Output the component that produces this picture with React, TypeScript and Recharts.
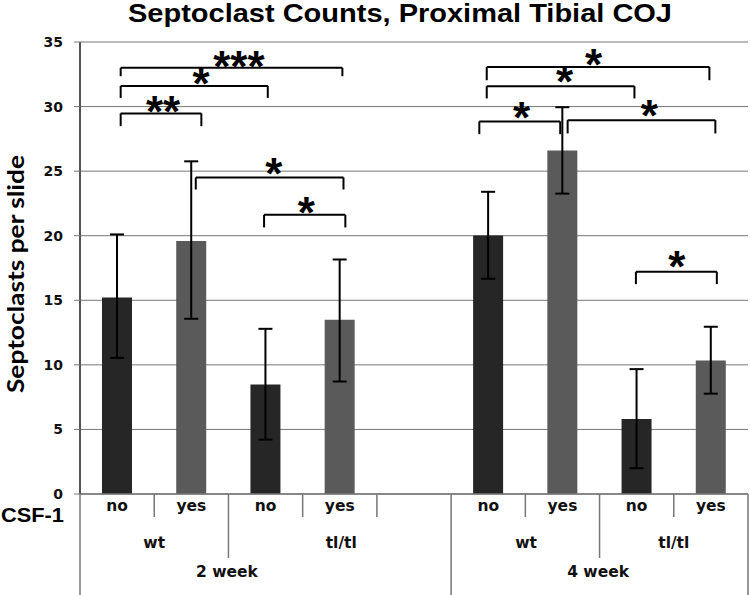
import React from 'react';
import { BarChart, Bar, XAxis, YAxis, CartesianGrid, ErrorBar, Cell, ReferenceLine, ReferenceDot } from 'recharts';

// ---- data ----
const slotIds = ['w2-wt-no', 'w2-wt-yes', 'w2-tl-no', 'w2-tl-yes', 'gap', 'w4-wt-no', 'w4-wt-yes', 'w4-tl-no', 'w4-tl-yes'];
const slotCenters = [0.5, 1.5, 2.5, 3.5, 4.5, 5.5, 6.5, 7.5, 8.5];
const csfLabels = ['no', 'yes', 'no', 'yes', '', 'no', 'yes', 'no', 'yes'];
const meanCounts: (number | null)[] = [15.22, 19.6, 8.47, 13.49, null, 20.02, 26.59, 5.81, 10.33];
const errLow: (number | null)[] = [4.68, 6.03, 4.26, 4.78, null, 3.35, 3.33, 3.81, 2.56];
const errHigh: (number | null)[] = [4.88, 6.16, 4.32, 4.67, null, 3.38, 3.36, 3.86, 2.62];

const groupLabels = ['wt', 'tl/tl', 'wt', 'tl/tl'];
const groupPos = [1.0, 3.52, 6.01, 8.0];
const weekLabels = ['2 week', '4 week'];
const weekPos = [1.98, 6.98];
// separator level at each slot boundary (0 = short, 1 = group, 2 = week)
const boundaryLevel = [2, 0, 1, 0, 0, 2, 0, 1, 0, 2];

const yTicks = [0, 5, 10, 15, 20, 25, 30, 35];

// significance brackets (x in slot units, y in counts)
const bracketX1 = [0.548, 0.548, 0.548, 1.56, 2.48, 5.48, 5.48, 5.38, 6.57, 7.49];
const bracketX2 = [3.535, 2.53, 1.635, 3.55, 3.575, 8.48, 7.47, 6.47, 8.56, 8.58];
const bracketTop = [33.0, 31.6, 29.47, 24.51, 21.62, 33.07, 31.58, 28.85, 28.95, 17.21];
const bracketEnd = [32.35, 30.67, 28.48, 23.58, 20.64, 32.04, 30.63, 27.86, 27.92, 16.25];

const starX = [2.14, 1.63, 1.12, 2.61, 3.05, 6.92, 6.53, 5.95, 7.67, 8.04];
const starY = [33.64, 32.29, 30.16, 25.29, 22.33, 33.73, 32.44, 29.64, 29.79, 18.14];
const starText = ['***', '*', '**', '*', '*', '*', '*', '*', '*', '*'];

const data = slotIds.map((id, i) => ({
  id,
  pos: slotCenters[i],
  csf: csfLabels[i],
  value: meanCounts[i],
  err: errLow[i] == null ? undefined : [errLow[i], errHigh[i]],
}));

const barColor: Record<string, string> = { no: '#262626', yes: '#5a5a5a' };
const lineColor = '#777777';
const labelFont = 'DejaVu Sans, sans-serif';

const CatTick = (props: any) => {
  const { x, y, index, width, visibleTicksCount } = props;
  const sw = typeof width === 'number' && visibleTicksCount ? width / visibleTicksCount : 74.2;
  const depth = [23, 64, 101];
  const left = x - sw / 2;
  const right = x + sw / 2;
  const last = index === csfLabels.length - 1;
  return (
    <g>
      <text x={x} y={y + 12} textAnchor="middle" dominantBaseline="central" fontFamily={labelFont} fontWeight="bold" fontSize={15.5} fill="#111">
        {csfLabels[index]}
      </text>
      <line x1={left} x2={left} y1={y} y2={y + depth[boundaryLevel[index]]} stroke={lineColor} strokeWidth={1.5} />
      {last && (
        <line x1={right} x2={right} y1={y} y2={y + depth[boundaryLevel[index + 1]]} stroke={lineColor} strokeWidth={1.5} />
      )}
    </g>
  );
};

const GroupTick = (props: any) => {
  const { x, y, index } = props;
  return (
    <text x={x} y={y + 19} textAnchor="middle" dominantBaseline="central" fontFamily={labelFont} fontWeight="bold" fontSize={15.5} fill="#111">
      {groupLabels[index]}
    </text>
  );
};

const WeekTick = (props: any) => {
  const { x, y, index } = props;
  return (
    <text x={x} y={y + 12} textAnchor="middle" dominantBaseline="central" fontFamily={labelFont} fontWeight="bold" fontSize={15.5} fill="#111">
      {weekLabels[index]}
    </text>
  );
};

const YTick = (props: any) => {
  const { x, y, payload } = props;
  return (
    <text x={x} y={y} textAnchor="end" dominantBaseline="central" fontFamily={labelFont} fontWeight="bold" fontSize={14} fill="#111">
      {payload.value}
    </text>
  );
};

const StarLabel = (text: string) => (props: any) => {
  const { viewBox } = props;
  const fs = 44;
  return (
    <text x={viewBox.x} y={viewBox.y + 0.5 * fs} textAnchor="middle" fontFamily="Liberation Sans, Arial, sans-serif" fontWeight="bold" fontSize={fs} fill="#000">
      {text}
    </text>
  );
};

export default function App() {
  return (
    <div style={{ position: 'absolute', left: 0, top: 0, width: 750, height: 595, background: '#fff' }}>
      <BarChart width={750} height={595} data={data} margin={{ top: 42, right: 2, left: 0, bottom: 0 }} barCategoryGap={0}>
        <CartesianGrid xAxisId="cat" horizontal vertical={false} stroke={lineColor} strokeWidth={1} />
        <XAxis xAxisId="cat" dataKey="id" height={30} interval={0} tickSize={0} tickMargin={0} tickLine={false} axisLine={{ stroke: lineColor, strokeWidth: 1.5 }} tick={<CatTick />} />
        <XAxis xAxisId="grp" dataKey="pos" type="number" domain={[0, 9]} ticks={groupPos} allowDataOverflow height={36} interval={0} tickSize={0} tickMargin={0} tickLine={false} axisLine={false} tick={<GroupTick />} />
        <XAxis xAxisId="wk" dataKey="pos" type="number" domain={[0, 9]} ticks={weekPos} allowDataOverflow height={35} interval={0} tickSize={0} tickMargin={0} tickLine={false} axisLine={false} tick={<WeekTick />} />
        <YAxis width={80} domain={[0, 35]} ticks={yTicks} interval={0} tickSize={6} tickMargin={11} axisLine={{ stroke: '#555', strokeWidth: 2 }} tickLine={{ stroke: lineColor }} tick={<YTick />} />
        <Bar xAxisId="cat" dataKey="value" barSize={30} isAnimationActive={false}>
          {data.map((d, i) => (
            <Cell key={i} fill={barColor[d.csf] || '#262626'} />
          ))}
          <ErrorBar dataKey="err" width={7} strokeWidth={2} stroke="#000" direction="y" />
        </Bar>
        {bracketX1.map((x1, i) => (
          <ReferenceLine key={'bl' + i} xAxisId="grp" ifOverflow="visible" stroke="#000" strokeWidth={2}
            segment={[{ x: x1, y: bracketEnd[i] }, { x: x1, y: bracketTop[i] }]} />
        ))}
        {bracketX1.map((x1, i) => (
          <ReferenceLine key={'bt' + i} xAxisId="grp" ifOverflow="visible" stroke="#000" strokeWidth={2}
            segment={[{ x: x1, y: bracketTop[i] }, { x: bracketX2[i], y: bracketTop[i] }]} />
        ))}
        {bracketX2.map((x2, i) => (
          <ReferenceLine key={'br' + i} xAxisId="grp" ifOverflow="visible" stroke="#000" strokeWidth={2}
            segment={[{ x: x2, y: bracketTop[i] }, { x: x2, y: bracketEnd[i] }]} />
        ))}
        {starX.map((sx, i) => (
          <ReferenceDot key={'s' + i} xAxisId="grp" x={sx} y={starY[i]} r={0} fill="none" stroke="none" ifOverflow="visible"
            label={{ content: StarLabel(starText[i]) }} />
        ))}
      </BarChart>
      <svg width={750} height={595} style={{ position: 'absolute', left: 0, top: 0, pointerEvents: 'none' }}>
        <text x={128} y={22} fontFamily="Liberation Sans, Arial, sans-serif" fontWeight="bold" fontSize={25} textLength={544} lengthAdjust="spacingAndGlyphs" fill="#000">
          Septoclast Counts, Proximal Tibial COJ
        </text>
        <text x={24} y={274} transform="rotate(-90 24 274)" textAnchor="middle" fontFamily="Lato, sans-serif" fontWeight="bold" fontSize={22} textLength={238} lengthAdjust="spacingAndGlyphs" fill="#000">
          Septoclasts per slide
        </text>
        <text x={1} y={522} fontFamily="Liberation Sans, Arial, sans-serif" fontWeight="bold" fontSize={21} textLength={63} lengthAdjust="spacingAndGlyphs" fill="#000">
          CSF-1
        </text>
      </svg>
    </div>
  );
}
